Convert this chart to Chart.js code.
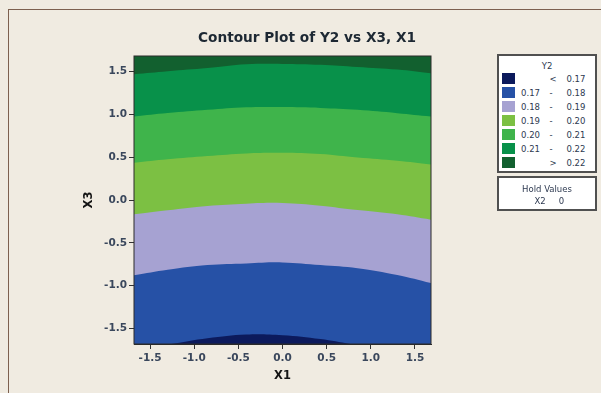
<!DOCTYPE html>
<html>
<head>
<meta charset="utf-8">
<script src="https://cdn.jsdelivr.net/npm/chart.js@4.4.1/dist/chart.umd.min.js"></script>
<style>
    html, body { margin: 0; padding: 0; }
    body {
        width: 601px; height: 393px; position: relative; overflow: hidden;
        background: #f0ebe1; font-family: "DejaVu Sans", sans-serif;
    }
    .frame {
        position: absolute; left: 8px; top: 9px; width: 620px; height: 420px;
        border-left: 1px solid #7d604f; border-top: 1px solid #7d604f;
    }
    #plot { position: absolute; left: 0; top: 0; }
    .title {
        position: absolute; left: 307px; top: 37px; transform: translate(-50%, -50%);
        font-weight: bold; font-size: 13.7px; color: #1d2833; white-space: nowrap;
    }
    .box {
        position: absolute; left: 497px; width: 100px; box-sizing: border-box;
        background: #fff; border: 2px solid #505050;
    }
    .txt {
        position: absolute; font-size: 8.5px; color: #2d3950; white-space: nowrap;
        transform: translateY(-50%); line-height: 1;
    }
    .sw { position: absolute; left: 502px; width: 13px; height: 11px; }
</style>
</head>
<body>
<div class="frame"></div>
<canvas id="plot" width="601" height="393"></canvas>
<div class="title">Contour Plot of Y2 vs X3, X1</div>
<div class="box" style="top:54px;height:119px"></div>
<div class="box" style="top:176px;height:35px"></div>
<div id="legend"></div>
<script>
const x1Grid = [-1.682, -1.3, -0.85, -0.41, 0, 0.43, 0.85, 1.3, 1.682]
const edgeTop = [1.682, 1.682, 1.682, 1.682, 1.682, 1.682, 1.682, 1.682, 1.682]
const level022 = [1.47, 1.505, 1.542, 1.585, 1.59, 1.58, 1.554, 1.523, 1.48]
const level021 = [0.975, 1.015, 1.053, 1.083, 1.085, 1.076, 1.053, 1.014, 0.975]
const level020 = [0.435, 0.475, 0.513, 0.544, 0.551, 0.536, 0.495, 0.458, 0.415]
const level019 = [-0.167, -0.12, -0.07, -0.043, -0.035, -0.066, -0.118, -0.167, -0.23]
const level018 = [-0.88, -0.815, -0.76, -0.741, -0.729, -0.76, -0.797, -0.876, -0.97]
// the < 0.17 pocket only shows near the bottom
const x1Low = [-1.26, -0.85, -0.41, 0, 0.43, 0.77]
const level017 = [-1.682, -1.615, -1.571, -1.58, -1.625, -1.682]

const x1Ticks = [-1.5, -1.0, -0.5, 0, 0.5, 1.0, 1.5]
const x3Ticks = [-1.5, -1.0, -0.5, 0, 0.5, 1.0, 1.5]

const legendLow = ['', '0.17', '0.18', '0.19', '0.20', '0.21', '']
const legendHigh = ['0.17', '0.18', '0.19', '0.20', '0.21', '0.22', '0.22']
const legendSign = ['<', '-', '-', '-', '-', '-', '>']
const bandColors = ['#0c1a5c', '#2651a6', '#a6a2d2', '#7cc043', '#3fb44b', '#08914a', '#12602f']

const toPoints = (xs, ys) => xs.map((x, i) => ({x: x, y: ys[i]}))

// each edge is filled down to the bottom; lower bands are drawn over upper ones
const edges = [
    toPoints(x1Low, level017),
    toPoints(x1Grid, level018),
    toPoints(x1Grid, level019),
    toPoints(x1Grid, level020),
    toPoints(x1Grid, level021),
    toPoints(x1Grid, level022),
    toPoints(x1Grid, edgeTop)
]

const tickFont = {family: 'DejaVu Sans', size: 10.5, weight: 'bold'}
const titleFont = {family: 'DejaVu Sans', size: 11.5, weight: 'bold'}

const plotFrame = {
    id: 'plotFrame',
    afterDatasetsDraw(chart) {
        const {ctx, chartArea} = chart
        ctx.save()
        ctx.strokeStyle = '#2b2b2b'
        ctx.lineWidth = 1
        ctx.strokeRect(chartArea.left, chartArea.top, chartArea.right - chartArea.left, chartArea.bottom - chartArea.top)
        ctx.restore()
    }
}

new Chart(document.getElementById('plot'), {
    type: 'line',
    data: {
        datasets: edges.map((pts, i) => ({
            data: pts,
            backgroundColor: bandColors[i],
            borderWidth: 0,
            pointRadius: 0,
            fill: 'start',
            tension: 0.4
        }))
    },
    options: {
        responsive: false,
        animation: false,
        layout: {padding: {left: 78, right: 170, top: 56, bottom: 6}},
        plugins: {legend: {display: false}, tooltip: {enabled: false}},
        scales: {
            x: {
                type: 'linear', min: -1.682, max: 1.682,
                afterBuildTicks: s => { s.ticks = x1Ticks.map(v => ({value: v})) },
                afterFit: s => { s.height = 43 },
                ticks: {callback: v => v.toFixed(1), font: tickFont, color: '#3a475c', padding: 3, maxRotation: 0, autoSkip: false},
                grid: {drawOnChartArea: false, drawTicks: true, tickLength: 5, tickColor: '#333'},
                border: {display: true, color: '#2b2b2b'},
                title: {display: true, text: 'X1', font: titleFont, color: '#141414', padding: {top: 4, bottom: 4}}
            },
            y: {
                type: 'linear', min: -1.682, max: 1.682,
                afterBuildTicks: s => { s.ticks = x3Ticks.map(v => ({value: v})) },
                afterFit: s => { s.width = 56 },
                ticks: {callback: v => v.toFixed(1), font: tickFont, color: '#3a475c', padding: 2, autoSkip: false},
                grid: {drawOnChartArea: false, drawTicks: true, tickLength: 5, tickColor: '#333'},
                border: {display: true, color: '#2b2b2b'},
                title: {display: true, text: 'X3', font: titleFont, color: '#141414', padding: {top: 4, bottom: 4}}
            }
        }
    },
    plugins: [plotFrame]
})

// legend boxes, Minitab style
const legend = document.getElementById('legend')
const addText = (text, left, top, align) => {
    const d = document.createElement('div')
    d.className = 'txt'
    d.textContent = text
    d.style.top = top + 'px'
    if (align === 'center') {
        d.style.left = left + 'px'
        d.style.transform = 'translate(-50%, -50%)'
    } else if (align === 'right') {
        d.style.right = (601 - left) + 'px'
    } else {
        d.style.left = left + 'px'
    }
    legend.appendChild(d)
}
addText('Y2', 547, 66, 'center')
for (let i = 0; i < bandColors.length; i++) {
    const cy = 78.7 + 14 * i
    const sw = document.createElement('div')
    sw.className = 'sw'
    sw.style.top = (cy - 5.5) + 'px'
    sw.style.background = bandColors[i]
    legend.appendChild(sw)
    if (legendLow[i]) addText(legendLow[i], 540, cy, 'right')
    addText(legendSign[i], legendSign[i] === '-' ? 551 : 553, cy, 'center')
    addText(legendHigh[i], 566.5, cy, 'left')
}
addText('Hold Values', 547, 188.5, 'center')
addText('X2', 540, 200.5, 'center')
addText('0', 561.5, 200.5, 'center')
</script>
</body>
</html>
